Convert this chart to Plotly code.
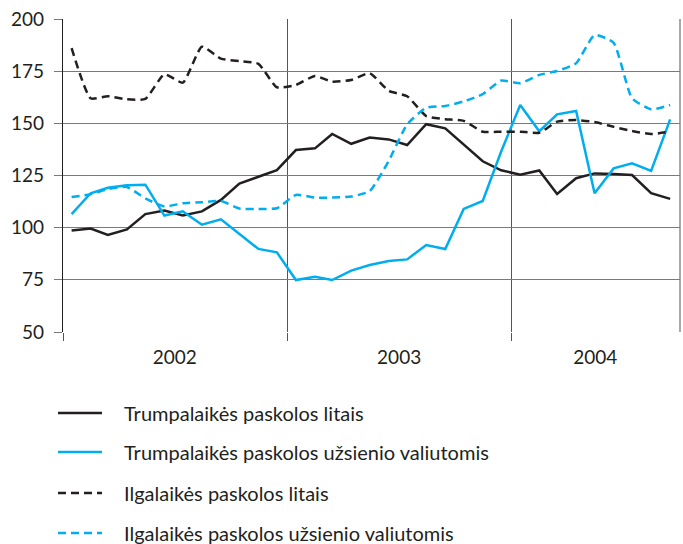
import plotly.graph_objects as go

# ---- data -------------------------------------------------------------
years = [2002, 2003, 2004]
month_counts = [12, 12, 9]
months = [f"{y}-{m:02d}-15" for y, n in zip(years, month_counts) for m in range(1, n + 1)]

short_litas = [98.6, 99.6, 96.5, 99.2, 106.5, 108.2, 105.8, 107.8, 113.3, 121.1,
               124.4, 127.6, 137.2, 138.0, 144.9, 140.2, 143.2, 142.3, 139.6, 149.6,
               147.6, 139.6, 131.8, 127.5, 125.4, 127.4, 116.1, 123.7, 126.0, 125.7,
               125.2, 116.5, 113.8]
short_foreign = [106.5, 116.5, 119.1, 120.3, 120.6, 105.8, 107.8, 101.4, 104.0, 97.0,
                 89.8, 88.2, 74.9, 76.5, 74.9, 79.4, 82.1, 84.0, 84.8, 91.7,
                 89.8, 109.0, 112.8, 136.5, 158.8, 146.2, 154.3, 155.9, 116.5, 128.4,
                 130.8, 127.2, 151.9]
long_litas = [186.0, 162.0, 163.0, 161.5, 161.7, 173.5, 169.5, 186.7, 181.0, 179.8,
              178.5, 167.3, 168.4, 172.7, 170.0, 170.8, 174.0, 165.6, 163.0, 153.5,
              152.0, 151.2, 146.0, 146.0, 146.0, 145.5, 150.8, 151.6, 150.6, 148.3,
              146.3, 144.9, 146.0]
long_foreign = [114.7, 116.0, 118.5, 119.5, 114.0, 110.2, 111.7, 112.2, 112.8, 109.2,
                109.0, 109.3, 115.7, 114.4, 114.4, 114.9, 117.5, 132.0, 149.5, 157.5,
                158.3, 160.5, 164.0, 170.5, 169.2, 173.2, 175.1, 178.8, 192.3, 188.6,
                162.0, 156.7, 158.8]

series_names = [
    "Trumpalaikės paskolos litais",
    "Trumpalaikės paskolos užsienio valiutomis",
    "Ilgalaikės paskolos litais",
    "Ilgalaikės paskolos užsienio valiutomis",
]
y_ticks = [50, 75, 100, 125, 150, 175, 200]
year_starts = ["2002-01-01", "2003-01-01", "2004-01-01"]
year_label_pos = ["2002-07-02", "2003-07-02", "2004-05-16"]
year_labels = ["2002", "2003", "2004"]

# ---- style ------------------------------------------------------------
BLACK = "#231f20"
BLUE = "#00aeef"
GRID = "#7a7a7a"
FONT = "Lato"
W, H = 683, 544
L, R, T, B = 63, 3, 19, 212

styles = [
    dict(color=BLACK, dash=None, shape="linear"),
    dict(color=BLUE, dash=None, shape="linear"),
    dict(color=BLACK, dash="8px,5px", shape="spline"),
    dict(color=BLUE, dash="8px,5px", shape="spline"),
]
all_series = [short_litas, short_foreign, long_litas, long_foreign]

fig = go.Figure()
for name, vals, st in zip(series_names, all_series, styles):
    line = dict(color=st["color"], width=2.5, shape=st["shape"])
    if st["dash"]:
        line["dash"] = st["dash"]
    if st["shape"] == "spline":
        line["smoothing"] = 0.5
    fig.add_trace(go.Scatter(x=months, y=vals, mode="lines", name=name,
                             line=line, showlegend=False))

# invisible trace to anchor the label axis
fig.add_trace(go.Scatter(x=[year_label_pos[0]], y=[None], xaxis="x2",
                         showlegend=False, hoverinfo="skip"))

xr = ["2002-01-01", "2004-10-01"]
fig.update_layout(
    width=W, height=H,
    margin=dict(l=L, r=R, t=T, b=B),
    paper_bgcolor="white", plot_bgcolor="white",
    font=dict(family=FONT, color=BLACK, size=19),
    xaxis=dict(type="date", range=xr, tickvals=year_starts, showticklabels=False,
               ticks="outside", ticklen=8, tickwidth=1.3, tickcolor="#555",
               showgrid=True, gridcolor="#555", gridwidth=1.3,
               showline=False, zeroline=False, automargin=False),
    xaxis2=dict(type="date", range=xr, overlaying="x", anchor="y", side="bottom",
                tickvals=year_label_pos, ticktext=year_labels, ticks="",
                showgrid=False, showline=False, zeroline=False, automargin=False,
                tickfont=dict(size=19, family=FONT, color=BLACK),
                ticklabelstandoff=12),
    yaxis=dict(range=[50, 200], tickvals=y_ticks, ticks="outside", ticklen=8,
               tickwidth=1.3, tickcolor=GRID, automargin=False,
               showgrid=True, gridcolor=GRID, gridwidth=1.3,
               showline=True, linecolor=BLACK, linewidth=1.3, zeroline=False,
               tickfont=dict(size=19, family=FONT, color=BLACK),
               ticklabelstandoff=6),
)

# right frame edge
fig.add_shape(type="line", xref="paper", yref="paper", x0=1, x1=1, y0=0, y1=1,
              line=dict(color=GRID, width=1.3))

# manual legend below the chart
pw = W - L - R
ph = H - T - B
def px_x(px):
    return (px - L) / pw
def px_y(py):
    return (H - B - py) / ph

legend_rows = [413, 452, 493, 533]
for name, st, ry in zip(series_names, styles, legend_rows):
    line = dict(color=st["color"], width=2.5)
    if st["dash"]:
        line["dash"] = st["dash"]
    fig.add_shape(type="line", xref="paper", yref="paper",
                  x0=px_x(58), x1=px_x(102), y0=px_y(ry), y1=px_y(ry), line=line)
    fig.add_annotation(xref="paper", yref="paper", x=px_x(122), y=px_y(ry),
                       text=name, showarrow=False, xanchor="left", yanchor="middle",
                       font=dict(family=FONT, size=20, color=BLACK))

fig.write_html("out.html", config={"displayModeBar": False},
               post_script="document.body.style.margin='0';document.body.style.overflow='hidden';")
